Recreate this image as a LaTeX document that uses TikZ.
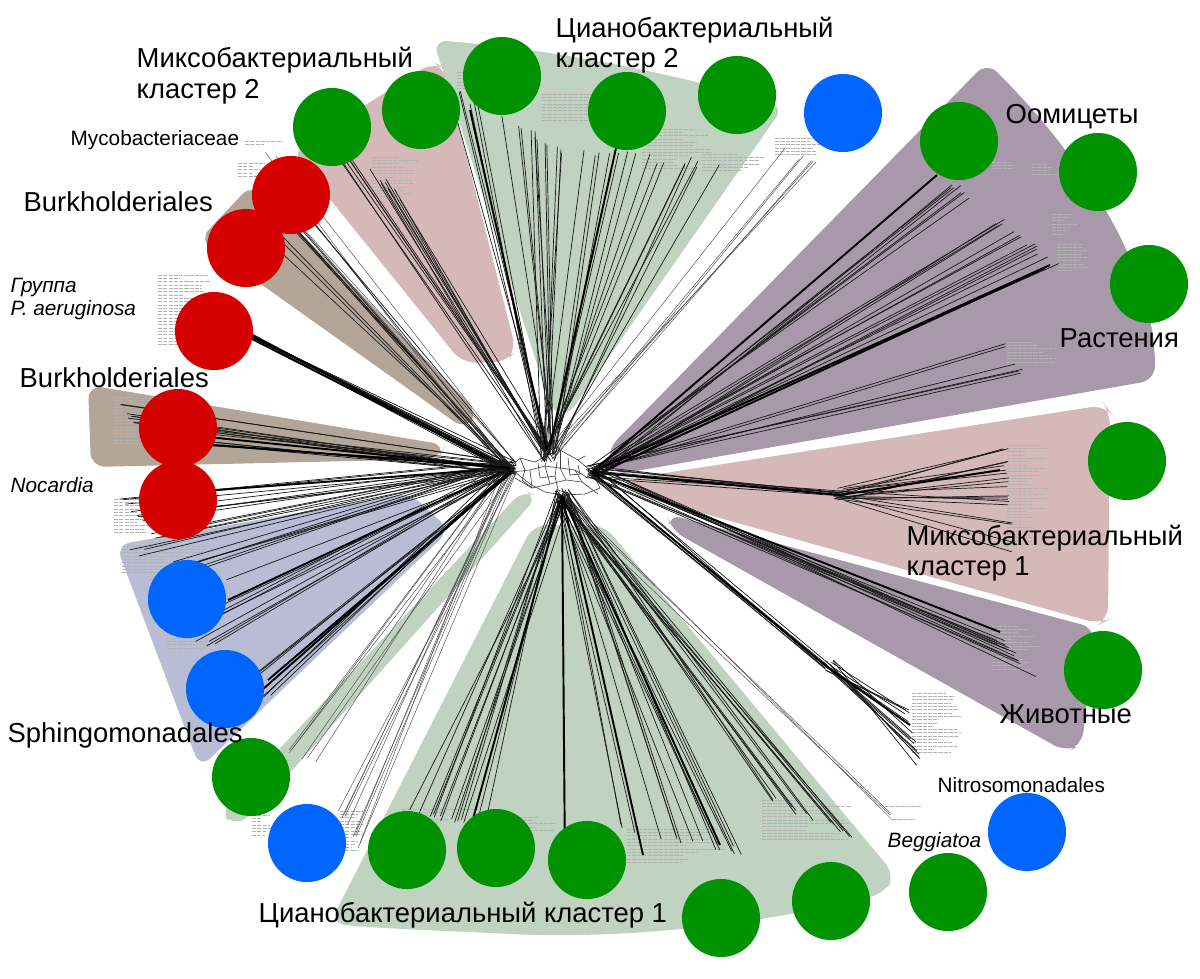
\documentclass[tikz,border=0pt]{standalone}
\usepackage{fontspec}
\setmainfont{Liberation Sans}
\usetikzlibrary{calc}
\definecolor{brownS}{RGB}{179,165,151}
\definecolor{pinkS}{RGB}{213,184,184}
\definecolor{greenS}{RGB}{191,211,192}
\definecolor{purpleS}{RGB}{168,153,170}
\definecolor{blueS}{RGB}{184,188,213}
\definecolor{redC}{RGB}{213,0,0}
\definecolor{greenC}{RGB}{0,146,0}
\definecolor{blueC}{RGB}{0,102,255}
\newcommand{\netfan}[6]{%
  \foreach \k in {1,...,#4}{%
    \pgfmathsetmacro{\fanT}{rnd}%
    \pgfmathsetmacro{\fanA}{(rnd-0.5)*#6}%
    \pgfmathsetmacro{\fanB}{(rnd-0.5)*#6}%
    \pgfmathsetmacro{\fanC}{(rnd-0.5)*14}%
    \pgfmathsetmacro{\fanD}{(rnd-0.5)*14}%
    \draw[#5] ($(#1)+(\fanC,\fanD)$) -- ($(#2)!\fanT!(#3)+(\fanA,\fanB)$);
  }%
}
% tiny illegible leaf labels: #1,#2 top-left corner, #3 rows, #4 max width
\newcommand{\leafblock}[4]{%
  \foreach \k in {1,...,#3}{%
    \pgfmathsetmacro{\lbW}{#4*(0.4+0.6*rnd)}%
    \pgfmathsetmacro{\lbY}{#2+3.3*\k}%
    \draw[leaf] (#1,\lbY) -- ++(\lbW,0);
  }%
}
\begin{document}
\begin{tikzpicture}[x=0.01cm,y=-0.01cm,
  sector/.style={rounded corners=4pt},
  thinnet/.style={line width=0.13pt,black!70},
  net/.style={line width=0.2pt,black!90},
  thicknet/.style={line width=0.55pt,black},
  web/.style={line width=0.18pt,black!75},
  leaf/.style={line width=0.28pt,black!30,dash pattern=on 1.2pt off 0.3pt},
  dot/.style={circle,inner sep=0pt,minimum size=0.78cm},
  lab/.style={font=\fontsize{7.8}{9}\selectfont,inner sep=0pt,anchor=base west},
  smalllab/.style={font=\fontsize{5.9}{7}\selectfont,inner sep=0pt,anchor=base west}]
\useasboundingbox (0,0) rectangle (1200,978);
\pgfmathsetseed{4711}
% ---------- sectors ----------
\fill[brownS,sector] (199,240) -- (252,184) -- (478,412) -- (466,430) -- cycle;
\fill[brownS,sector] (88,385) -- (446,445) -- (438,459) -- (91,467) -- cycle;
\fill[pinkS,sector] (292,152) -- (433,62) -- (444,68) -- (516,350) -- (507,362) -- (462,363) -- cycle;
\fill[greenS,sector] (433,40) .. controls (560,50) and (680,75) .. (784,106) -- (567,417) -- (553,414) -- cycle;
\fill[purpleS,sector] (987,62) .. controls (1085,160) and (1155,270) .. (1155,380) -- (613,475) -- (607,450) -- cycle;
\fill[pinkS,sector] (626,479) -- (1105,405) -- (1110,412) -- (1108,620) -- (1100,624) -- (630,493) -- cycle;
\fill[purpleS,sector] (667,514) -- (1095,628) -- (1082,745) -- (1066,752) -- (671,530) -- cycle;
\fill[blueS,sector] (116,545) -- (410,493) -- (450,530) -- (200,768) -- cycle;
\fill[greenS,sector] (523,490) -- (538,496) -- (252,815) -- (233,826) -- (220,812) -- cycle;
\fill[greenS,sector] (533,525) -- (604,525) -- (895,875) -- (885,893) .. controls (760,925) and (620,940) .. (492,933) .. controls (420,930) and (360,927) .. (330,923) -- cycle;
% ---------- tiny leaf labels ----------
\leafblock{245}{138}{2}{42}
\leafblock{238}{160}{5}{28}
\leafblock{158}{272}{22}{55}
\leafblock{114}{394}{15}{40}
\leafblock{114}{496}{11}{40}
\leafblock{122}{543}{9}{90}
\leafblock{167}{625}{7}{65}
\leafblock{232}{684}{3}{28}
\leafblock{258}{754}{3}{36}
\leafblock{252}{812}{7}{20}
\leafblock{340}{808}{13}{26}
\leafblock{402}{806}{5}{85}
\leafblock{502}{814}{5}{55}
\leafblock{627}{826}{11}{105}
\leafblock{762}{797}{13}{90}
\leafblock{885}{803}{1}{38}
\leafblock{893}{816}{1}{24}
\leafblock{912}{690}{19}{50}
\leafblock{992}{623}{14}{52}
\leafblock{1007}{442}{31}{42}
\leafblock{1050}{541}{1}{110}
\leafblock{1007}{339}{7}{50}
\leafblock{1032}{161}{4}{32}
\leafblock{1052}{211}{7}{28}
\leafblock{1057}{241}{9}{32}
\leafblock{992}{159}{3}{28}
\leafblock{775}{135}{6}{52}
\leafblock{642}{126}{13}{70}
\leafblock{702}{151}{6}{65}
\leafblock{542}{91}{9}{70}
\leafblock{457}{69}{6}{55}
\leafblock{372}{154}{13}{50}
\leafblock{322}{109}{7}{38}
% ---------- hubs ----------
\coordinate (hubL) at (510,468);
\coordinate (hubT) at (548,455);
\coordinate (hubR) at (592,472);
\coordinate (hubB) at (562,495);
\coordinate (subP) at (840,495);
\coordinate (subN) at (827,667);
% ---------- central web ----------
\draw[web] (hubL) -- (520,458) -- (535,462) -- (hubT) -- (560,450) -- (578,460) -- (hubR) -- (600,488) -- (585,494) -- (hubB) -- (545,492) -- (530,484) -- cycle;
\draw[web] (500,472) -- (512,472) -- (530,470) -- (545,466) -- (560,468) -- (575,470) -- (588,478) -- (604,476);
\draw[web] (515,478) -- (532,488) -- (550,484) -- (566,480) -- (582,482) -- (598,494);
\draw[web] (530,470) -- (532,488); \draw[web] (545,466) -- (550,484);
\draw[web] (560,468) -- (566,480); \draw[web] (575,470) -- (582,482);
\draw[web] (548,455) -- (545,466); \draw[web] (560,450) -- (560,468);
\draw[web] (538,463) -- (540,478) -- (555,476) -- (557,462);
\draw[web] (568,458) -- (570,475) -- (580,474) -- (578,465);
\draw[web] (520,458) -- (525,470) -- (522,480) -- (532,488);
\draw[web] (555,476) -- (558,490) -- (570,494);
\draw[web] (540,445) -- (548,455); \draw[web] (552,440) -- (560,450);
\draw[web] (585,456) -- (578,460); \draw[web] (606,462) -- (hubR);
\draw[web] (570,500) -- (575,510); \draw[web] (555,500) -- (552,512);
% ---------- fans of edges ----------
\netfan{hubL}{262,150}{282,160}{2}{thinnet}{4}
\netfan{hubL}{248,222}{305,200}{10}{net}{8}
\netfan{hubL}{250,170}{268,188}{3}{thinnet}{4}
\netfan{hubL}{246,332}{256,338}{9}{net}{3}
\draw[thicknet] (hubL) -- (250,335);
\draw[thicknet] ($(hubL)+(2,3)$) -- (252,339);
\netfan{hubT}{318,128}{405,200}{14}{net}{8}
\netfan{hubT}{450,88}{560,150}{16}{net}{10}
\netfan{hubT}{560,150}{722,165}{18}{net}{10}
\draw[thicknet] (hubT) -- (620,130);
\draw[thicknet] (hubT) -- (470,110);
\netfan{hubT}{775,148}{830,165}{6}{thinnet}{6}
\netfan{hubR}{935,172}{1060,268}{22}{net}{10}
\netfan{hubR}{1000,340}{1022,375}{6}{net}{6}
\draw[thicknet] (hubR) -- (937,175);
\draw[thicknet] (hubR) -- (1050,265);
\draw[thicknet] ($(hubR)+(0,4)$) -- (1045,268);
\netfan{hubR}{subP}{subP}{8}{net}{8}
\netfan{subP}{1005,445}{1012,552}{20}{net}{6}
\draw[thicknet] (hubR) -- (subP) -- (1000,470);
\netfan{hubR}{985,625}{1040,682}{12}{net}{8}
\draw[thicknet] (hubR) -- (1000,632);
\netfan{hubR}{subN}{subN}{6}{net}{6}
\netfan{subN}{905,705}{920,770}{14}{net}{6}
\draw[thicknet] (hubR) -- (subN) -- (910,725);
\netfan{hubB}{885,805}{893,822}{3}{thinnet}{3}
\netfan{hubB}{400,808}{495,830}{14}{net}{8}
\netfan{hubB}{620,828}{748,853}{16}{net}{8}
\netfan{hubB}{770,800}{862,840}{14}{net}{8}
\draw[thicknet] (hubB) -- (643,855);
\draw[thicknet] (hubB) -- (720,845);
\draw[thicknet] (hubB) -- (470,830);
\draw[thicknet] (hubB) -- (565,870);
\netfan{hubL}{340,812}{362,852}{10}{thinnet}{6}
\netfan{hubL}{280,748}{318,762}{6}{thinnet}{6}
\netfan{hubL}{122,547}{226,578}{10}{net}{8}
\netfan{hubL}{168,630}{232,650}{8}{net}{8}
\netfan{hubL}{230,690}{268,695}{6}{net}{8}
\draw[thicknet] (hubL) -- (228,600);
\draw[thicknet] ($(hubL)+(0,3)$) -- (262,690);
\draw[thicknet] ($(hubL)+(3,3)$) -- (268,680);
\netfan{hubL}{119,498}{158,538}{12}{net}{6}
\draw[thicknet] (hubL) -- (150,495);
\netfan{hubL}{119,400}{153,448}{15}{net}{6}
\draw[thicknet] (hubL) -- (140,430);
\draw[thicknet] (hubL) -- (150,440);
% ---------- circles ----------
\node[dot,fill=greenC] (gA) at (332,127) {};
\node[dot,fill=greenC] (gB) at (421,110) {};
\node[dot,fill=greenC] (gC) at (502,76) {};
\node[dot,fill=greenC] (gD) at (627,111) {};
\node[dot,fill=greenC] (gE) at (737,95) {};
\node[dot,fill=blueC] (bA) at (843,113) {};
\node[dot,fill=greenC] (gF) at (959,141) {};
\node[dot,fill=greenC] (gG) at (1098,172) {};
\node[dot,fill=greenC] (gH) at (1149,284) {};
\node[dot,fill=greenC] (gI) at (1127,461) {};
\node[dot,fill=greenC] (gJ) at (1103,670) {};
\node[dot,fill=blueC] (bB) at (1027,832) {};
\node[dot,fill=greenC] (gK) at (948,892) {};
\node[dot,fill=greenC] (gL) at (831,901) {};
\node[dot,fill=greenC] (gM) at (721,918) {};
\node[dot,fill=greenC] (gN) at (587,860) {};
\node[dot,fill=greenC] (gO) at (496,848) {};
\node[dot,fill=greenC] (gP) at (407,850) {};
\node[dot,fill=blueC] (bC) at (307,843) {};
\node[dot,fill=greenC] (gQ) at (251,777) {};
\node[dot,fill=blueC] (bD) at (225,689) {};
\node[dot,fill=blueC] (bE) at (187,599) {};
\node[dot,fill=redC] (rE) at (178,500) {};
\node[dot,fill=redC] (rD) at (178,428) {};
\node[dot,fill=redC] (rC) at (214,331) {};
\node[dot,fill=redC] (rB) at (246,248) {};
\node[dot,fill=redC] (rA) at (291,195) {};
% ---------- labels ----------
\node[lab] (lMyx2a) at (136,67) {Миксобактериальный};
\node[lab] (lMyx2b) at (136,98) {кластер 2};
\node[lab] (lCy2a) at (555,37) {Цианобактериальный};
\node[lab] (lCy2b) at (555,67) {кластер 2};
\node[smalllab] (lMyc) at (70,145) {Mycobacteriaceae};
\node[lab] (lBu1) at (23,211) {Burkholderiales};
\node[smalllab,font=\fontsize{5.9}{7}\selectfont\itshape] (lPa1) at (10,292) {Группа};
\node[smalllab,font=\fontsize{5.9}{7}\selectfont\itshape] (lPa2) at (10,315) {P. aeruginosa};
\node[lab] (lBu2) at (19,387) {Burkholderiales};
\node[smalllab,font=\fontsize{5.9}{7}\selectfont\itshape] (lNoc) at (10,492) {Nocardia};
\node[lab] (lSph) at (7,742) {Sphingomonadales};
\node[lab] (lCy1) at (258,922) {Цианобактериальный кластер 1};
\node[lab] (lOom) at (1005,123) {Оомицеты};
\node[lab] (lRas) at (1059,347) {Растения};
\node[lab] (lMyx1a) at (906,545) {Миксобактериальный};
\node[lab] (lMyx1b) at (906,575) {кластер 1};
\node[lab] (lZhi) at (999,723) {Животные};
\node[smalllab] (lNit) at (937,792) {Nitrosomonadales};
\node[smalllab,font=\fontsize{5.9}{7}\selectfont\itshape] (lBeg) at (887,847) {Beggiatoa};
\end{tikzpicture}
\end{document}
